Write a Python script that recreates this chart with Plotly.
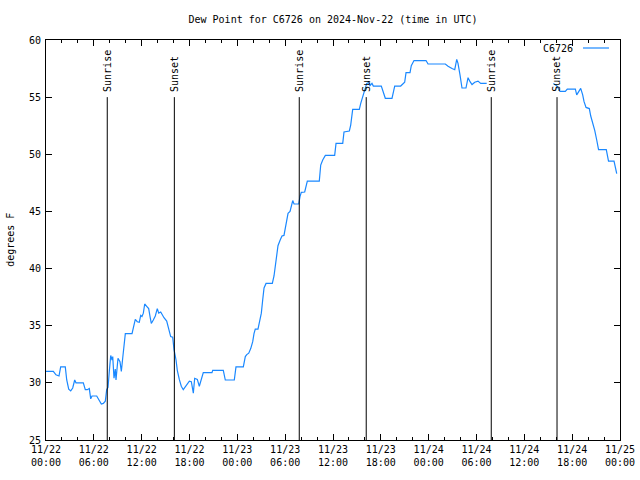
import plotly.graph_objects as go
import pandas as pd

start = "2024-11-22 00:00"

# hours since 2024-11-22 00:00 UTC (None marks a data gap)
hours = [0.0, 0.92, 1.25, 1.63, 1.84, 2.42, 2.60, 2.85, 3.10, 3.35, 3.60, 3.76, 4.68, 4.93, 5.18,
         5.43, 5.61, 5.77, 6.36, 6.61, 6.94, 7.19, 7.44, 7.61, 7.78, 7.94, 8.12, 8.28, 8.37, 8.53,
         8.69, 8.78, 8.94, 9.03, 9.28, 9.45, 9.62, 9.78, 9.95, 10.79, 10.95, 11.20, 11.45, 11.70,
         11.88, 12.04, 12.21, 12.38, 12.63, 12.88, 13.05, 13.21, 13.46, 13.71, 13.96, 14.14, 14.39,
         14.55, 14.80, 15.14, 15.39, 15.64, 15.89, 16.06, 16.31, 16.47, 16.72, 16.97, 17.22, 17.65,
         17.98, 18.23, 18.40, 18.48, 18.65, 18.98, 19.23, 19.48, 19.73, 20.82, 20.91, 22.24, 22.49,
         23.62, 23.83, 24.75, 25.00, 25.18, 25.43, 25.68, 25.93, 26.09, 26.25, 26.59, 26.84, 27.01,
         27.18, 27.35, 27.60, 28.39, 28.60, 28.76, 28.94, 29.10, 29.35, 29.60, 29.85, 30.02, 30.19,
         30.36, 30.61, 30.77, 30.95, 31.11, 31.70, 31.86, 32.02, 32.45, 32.61, 32.78, 34.28, 34.46,
         34.71, 35.04, 36.21, 36.38, 37.22, 37.38, 38.05, 38.22, 38.47, 39.30, 39.48, 39.73, 39.89,
         40.05, 40.23, 40.48, 40.64, 40.89, 41.06, 42.06, 42.31, 42.56, 43.40, 43.57, 43.74, 44.49,
         44.66, 44.99, 45.16, 45.66, 45.82, 46.16, 47.67, 47.92, 50.09, 50.43, 50.93, 51.27, 51.52,
         51.68, 51.93, 52.18, 52.68, 52.94, 53.19, 53.44, 53.78, 54.19, 54.53, 55.28, None,
         63.64, 64.06, 64.48, 65.14, 65.39, 66.40, 66.57, 67.07, 67.32, 67.49, 67.74, 68.15, 68.33,
         68.62, 68.83, 69.08, 69.31, 70.28, 70.56, 71.25, 71.41, 71.59]

dewpoint = [31.0, 31.0, 30.7, 30.6, 31.4, 31.4, 30.25, 29.45, 29.3, 29.55, 30.25, 30.0, 30.0, 29.4, 29.4,
            29.5, 28.6, 28.85, 28.85, 28.5, 28.15, 28.2, 28.4, 29.4, 29.6, 31.0, 32.4, 32.0, 32.3, 30.4,
            31.2, 30.25, 31.4, 32.15, 31.85, 31.0, 32.15, 33.0, 34.3, 34.3, 34.85, 35.55, 35.35, 35.3,
            35.9, 35.8, 36.1, 36.9, 36.7, 36.5, 35.8, 35.2, 35.5, 35.85, 36.5, 36.1, 36.2,
            36.0, 35.7, 35.4, 34.8, 34.05, 34.0, 32.9, 32.0, 31.1, 30.3, 29.7, 29.4, 29.8,
            30.15, 30.1, 29.45, 29.1, 30.4, 30.3, 29.7, 30.25, 30.9, 30.9, 31.1, 31.1, 30.25,
            30.25, 31.4, 31.4, 32.3, 32.47, 32.6, 33.0, 33.6, 34.3, 34.7, 34.7, 35.5, 36.1,
            37.25, 38.3, 38.7, 38.7, 39.35, 40.2, 40.8, 42.0, 42.45, 42.85, 42.9, 43.66, 44.25,
            44.83, 45.0, 45.5, 45.95, 45.65, 45.65, 46.3, 46.67, 46.7, 47.2, 47.66, 47.66, 49.06,
            49.5, 49.9, 49.9, 50.96, 50.96, 51.95, 52.04, 52.56, 53.93, 53.93, 54.46, 55.04, 55.6,
            55.9, 56.2, 56.27, 56.0, 56.2, 55.97, 55.97, 55.4, 54.9, 54.9, 55.48, 55.97, 55.97,
            56.1, 56.3, 57.14, 57.14, 57.75, 58.2, 58.2, 57.9, 57.9, 57.7, 57.5, 57.4, 58.3,
            57.96, 56.94, 55.8, 55.8, 56.7, 56.35, 56.1, 56.3, 56.4, 56.2, 56.2, None,
            56.2, 56.0, 55.5, 55.5, 55.7, 55.7, 55.2, 55.77, 55.2, 54.6, 54.1, 54.0, 53.35,
            52.7, 52.1, 51.25, 50.4, 50.4, 49.4, 49.4, 48.9, 48.3]

sun_times = ["2024-11-22 07:41", "2024-11-22 16:06", "2024-11-23 07:46",
             "2024-11-23 16:10", "2024-11-24 07:51", "2024-11-24 16:06"]
sun_labels = ["Sunrise", "Sunset", "Sunrise", "Sunset", "Sunrise", "Sunset"]
sun_line_top = 55.0

station = "C6726"
title = "Dew Point for C6726 on 2024-Nov-22 (time in UTC)"
y_label = "degrees F"
x_range = ["2024-11-22 00:00", "2024-11-25 00:00"]
y_range = [25, 60]

t0 = pd.Timestamp(start)
times = [None if h is None else (t0 + pd.Timedelta(hours=h)) for h in hours]

FONT = "DejaVu Sans Mono"
BLUE = "#1a88ff"
W, H = 640, 480

fig = go.Figure()
fig.add_trace(go.Scatter(x=times, y=dewpoint, mode="lines", name=station,
                         line=dict(color=BLUE, width=1.2), connectgaps=False,
                         showlegend=False, hoverinfo="skip"))

shapes = []
annotations = []
for t, lab in zip(sun_times, sun_labels):
    shapes.append(dict(type="line", xref="x", yref="y", x0=t, x1=t,
                       y0=y_range[0], y1=sun_line_top,
                       line=dict(color="black", width=1)))
    annotations.append(dict(x=t, y=sun_line_top + 0.3, xref="x", yref="y",
                            text=lab, textangle=-90, showarrow=False,
                            xanchor="center", yanchor="bottom",
                            font=dict(family=FONT, size=10, color="black")))

# legend (text then sample, gnuplot style)
annotations.append(dict(x=0.9216, y=0.98, xref="paper", yref="paper", text=station,
                        showarrow=False, xanchor="right", yanchor="middle",
                        font=dict(family=FONT, size=10, color="black")))
shapes.append(dict(type="line", xref="paper", yref="paper", x0=0.9355, x1=0.9808,
                   y0=0.98, y1=0.98, line=dict(color=BLUE, width=1.2)))

# y axis label
annotations.append(dict(x=-0.063, y=0.5, xref="paper", yref="paper", text=y_label,
                        textangle=-90, showarrow=False, xanchor="center", yanchor="middle",
                        font=dict(family=FONT, size=10, color="black")))

fig.update_layout(
    width=W, height=H,
    margin=dict(l=46, r=20, t=40, b=40, autoexpand=False),
    paper_bgcolor="white", plot_bgcolor="white",
    font=dict(family=FONT, size=10, color="black"),
    title=dict(text=title, x=0.5, xref="paper", xanchor="center",
               y=1 - 19 / H, yref="container", yanchor="middle",
               font=dict(family=FONT, size=10, color="black")),
    shapes=shapes, annotations=annotations,
)

fig.update_xaxes(type="date", range=x_range, showgrid=False, zeroline=False,
                 automargin=False,
                 showline=True, linecolor="black", linewidth=1, mirror="ticks",
                 ticks="inside", ticklen=6, tickcolor="black", tickwidth=1,
                 tick0=x_range[0], dtick=6 * 3600 * 1000,
                 tickformat="%m/%d<br>%H:%M",
                 minor=dict(ticks="inside", ticklen=3, dtick=2 * 3600 * 1000,
                            tickcolor="black", showgrid=False),
                 tickfont=dict(family=FONT, size=10, color="black"))
fig.update_yaxes(range=y_range, dtick=5, showgrid=False, zeroline=False,
                 automargin=False, ticklabelstandoff=2,
                 showline=True, linecolor="black", linewidth=1, mirror="ticks",
                 ticks="inside", ticklen=6, tickcolor="black", tickwidth=1,
                 tickfont=dict(family=FONT, size=10, color="black"))

# remove the default 8px page margin so the figure fills the window exactly
fig.write_html("out.html", config={"displayModeBar": False},
               post_script="document.body.style.margin='0px';document.body.style.overflow='hidden';")
